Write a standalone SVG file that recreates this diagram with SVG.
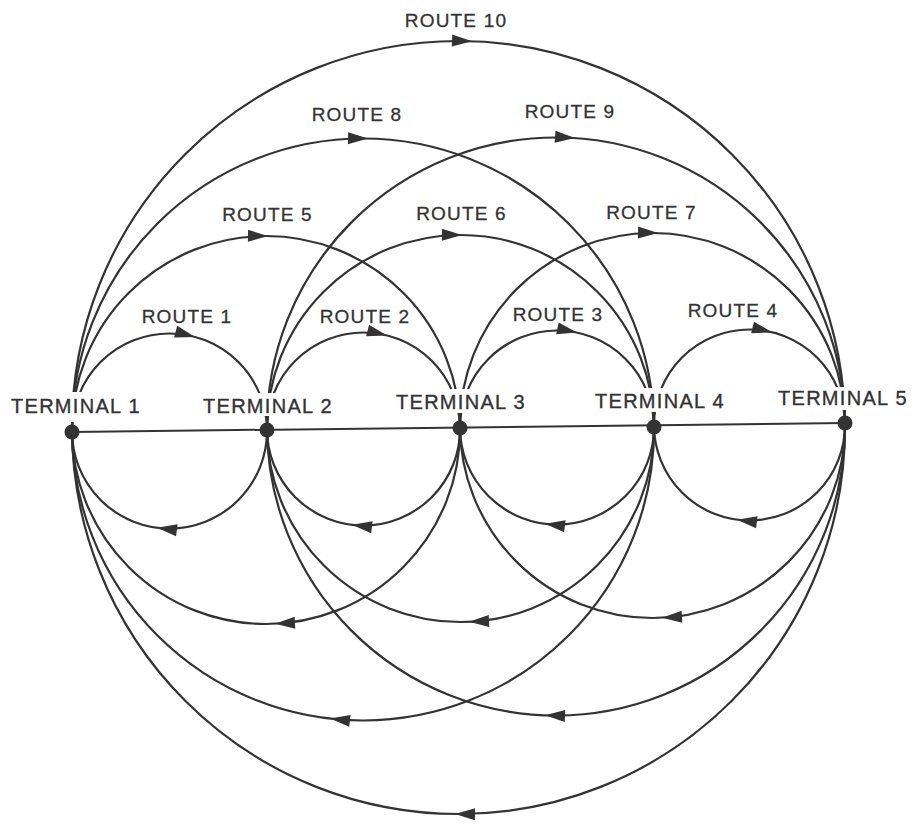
<svg xmlns="http://www.w3.org/2000/svg" xmlns:xlink="http://www.w3.org/1999/xlink" width="916" height="825" viewBox="0 0 916 825">
<style>
.route{fill:none;stroke:#333;stroke-width:2.2}
.rl{font-family:"Liberation Sans",Arial,sans-serif;font-size:19px;letter-spacing:1.2px;fill:#333;stroke:#333;stroke-width:0.3;text-anchor:middle}
.tl{font-family:"Liberation Sans",Arial,sans-serif;font-size:20px;letter-spacing:1.3px;fill:#333;stroke:#333;stroke-width:0.35;text-anchor:middle}
.bg{fill:#fff}
.dot{fill:#333}
.ah{fill:#333}
</style>
<defs>
<path id="ah" d="M0,0 L-20,-6 L-20,6 Z"/>
</defs>
<rect width="916" height="825" fill="#fff"/>
<g id="connectors">
<line x1="72" y1="432" x2="845" y2="423" stroke="#333" stroke-width="2"/>
<g id="route1"><circle class="route" cx="169.5" cy="431" r="97.5"/><use href="#ah" class="ah" transform="translate(195,336.9) rotate(15.2)"/><use href="#ah" class="ah" transform="translate(157,527.7) rotate(187.4)"/><text class="rl" x="187" y="323">ROUTE 1</text></g>
<g id="route2"><circle class="route" cx="363.5" cy="429" r="96.5"/><use href="#ah" class="ah" transform="translate(387,335.4) rotate(14.1)"/><use href="#ah" class="ah" transform="translate(352,524.8) rotate(186.8)"/><text class="rl" x="365" y="323">ROUTE 2</text></g>
<g id="route3"><circle class="route" cx="557" cy="427.5" r="97"/><use href="#ah" class="ah" transform="translate(577,332.6) rotate(11.9)"/><use href="#ah" class="ah" transform="translate(545,523.8) rotate(187.1)"/><text class="rl" x="558" y="321">ROUTE 3</text></g>
<g id="route4"><circle class="route" cx="749.5" cy="425" r="95.5"/><use href="#ah" class="ah" transform="translate(772,332.2) rotate(13.6)"/><use href="#ah" class="ah" transform="translate(737,519.7) rotate(187.5)"/><text class="rl" x="733" y="317">ROUTE 4</text></g>
<g id="route5"><circle class="route" cx="266" cy="430" r="194"/><use href="#ah" class="ah" transform="translate(268,236) rotate(0.6)"/><use href="#ah" class="ah" transform="translate(275,623.8) rotate(177.3)"/><text class="rl" x="267.5" y="221">ROUTE 5</text></g>
<g id="route6"><circle class="route" cx="460.5" cy="428.5" r="193.5"/><use href="#ah" class="ah" transform="translate(462,235) rotate(0.4)"/><use href="#ah" class="ah" transform="translate(469,621.8) rotate(177.5)"/><text class="rl" x="461.5" y="220">ROUTE 6</text></g>
<g id="route7"><circle class="route" cx="652.5" cy="425.5" r="192.5"/><use href="#ah" class="ah" transform="translate(658,233.1) rotate(1.6)"/><use href="#ah" class="ah" transform="translate(662,617.8) rotate(177.2)"/><text class="rl" x="651.5" y="219">ROUTE 7</text></g>
<g id="route8"><circle class="route" cx="363" cy="429.5" r="291"/><use href="#ah" class="ah" transform="translate(368,138.5) rotate(1)"/><use href="#ah" class="ah" transform="translate(330,718.6) rotate(186.5)"/><text class="rl" x="357" y="121">ROUTE 8</text></g>
<g id="route9"><circle class="route" cx="556" cy="426.5" r="289"/><use href="#ah" class="ah" transform="translate(575,138.1) rotate(3.8)"/><use href="#ah" class="ah" transform="translate(545,715.3) rotate(182.2)"/><text class="rl" x="570" y="118">ROUTE 9</text></g>
<g id="route10"><circle class="route" cx="458.5" cy="427.5" r="386.5"/><use href="#ah" class="ah" transform="translate(472,41.2) rotate(2)"/><use href="#ah" class="ah" transform="translate(455,814) rotate(180.5)"/><text class="rl" x="456" y="27">ROUTE 10</text></g>
</g>
<g id="terminal1"><rect class="bg" x="7" y="392" width="138" height="30"/><circle class="dot" cx="72" cy="432" r="7.5"/><text class="tl" x="76" y="413">TERMINAL 1</text></g>
<g id="terminal2"><rect class="bg" x="199" y="393" width="138" height="23"/><circle class="dot" cx="267" cy="430" r="7.5"/><text class="tl" x="268" y="413">TERMINAL 2</text></g>
<g id="terminal3"><rect class="bg" x="393" y="389" width="137" height="24"/><circle class="dot" cx="460" cy="428" r="7.5"/><text class="tl" x="461" y="409">TERMINAL 3</text></g>
<g id="terminal4"><rect class="bg" x="593" y="388" width="134" height="24"/><circle class="dot" cx="654" cy="427" r="7.5"/><text class="tl" x="660" y="408">TERMINAL 4</text></g>
<g id="terminal5"><rect class="bg" x="775" y="387" width="137" height="23"/><circle class="dot" cx="845" cy="423" r="7.5"/><text class="tl" x="843" y="405">TERMINAL 5</text></g>
</svg>
